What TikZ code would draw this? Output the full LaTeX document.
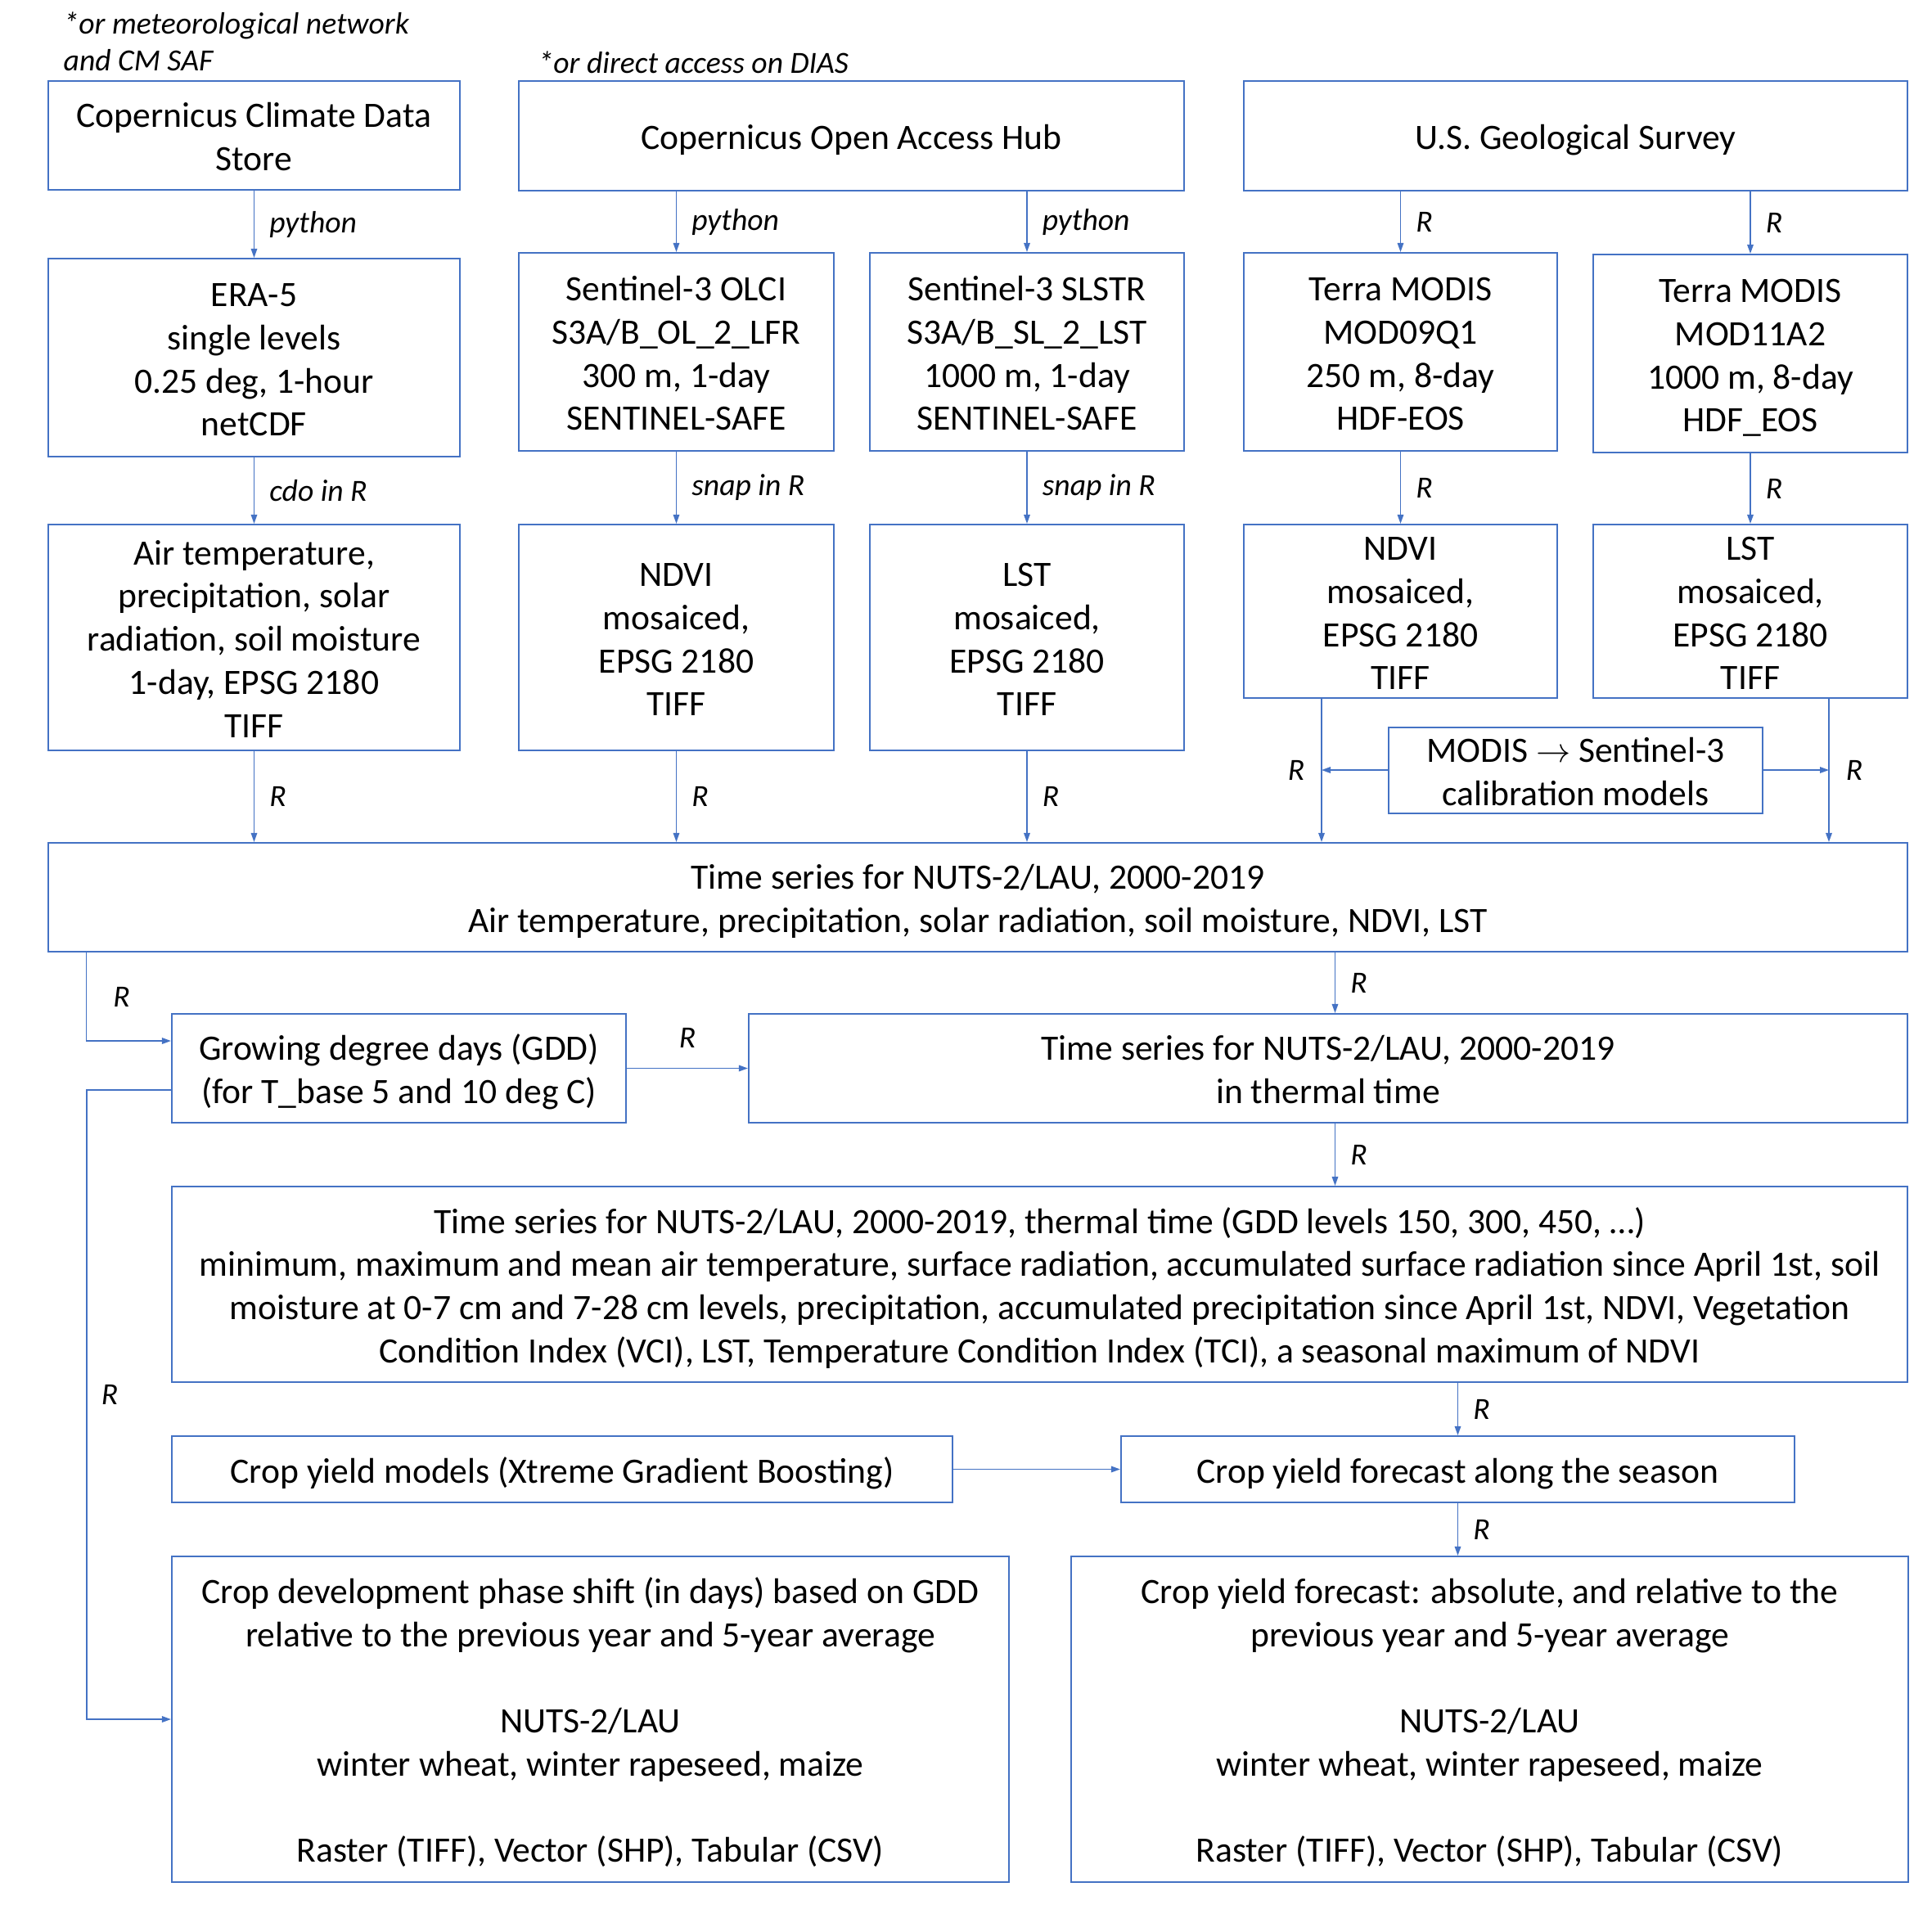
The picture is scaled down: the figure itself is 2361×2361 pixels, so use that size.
\documentclass[tikz,border=0pt]{standalone}
\usepackage{fontspec}
\setmainfont{Carlito}
\usetikzlibrary{arrows.meta,calc}
\definecolor{lineblue}{RGB}{68,114,196}
\newcommand{\bt}[1]{\raisebox{-1.75pt}[\height][\depth]{\begin{tabular}{@{}c@{}}#1\end{tabular}}}
\begin{document}
\begin{tikzpicture}[x=0.1mm,y=-0.1mm,
 box/.style={draw=lineblue,line width=0.6pt,align=center,inner sep=0pt,font=\fontsize{12.4}{15}\selectfont},
 arr/.style={draw=lineblue,line width=0.45pt,-{Triangle[length=1.1mm,width=0.75mm]}},
 lbl/.style={font=\fontsize{10.7}{13}\selectfont\itshape,inner sep=0pt},
]
\useasboundingbox (0,0) rectangle (2361,2361);

% footnotes
\node[lbl,anchor=west,align=left] (fn1) at (77,50.7) {*or meteorological network\\and CM SAF};
\node[lbl,anchor=west] (fn2) at (657,76.5) {*or direct access on DIAS};

% row 1
\node[box,minimum width=50.3mm,minimum height=13.3mm] (cds) at (310.5,165.5) {\bt{Copernicus Climate Data\\Store}};
\node[box,minimum width=81.3mm,minimum height=13.4mm] (coah) at (1040.5,166) {\bt{Copernicus Open Access Hub}};
\node[box,minimum width=81.1mm,minimum height=13.4mm] (usgs) at (1925.5,166) {\bt{U.S. Geological Survey}};

% row 2
\node[box,minimum width=50.3mm,minimum height=24.2mm] (era) at (310.5,437) {\bt{ERA-5\\single levels\\0.25 deg, 1-hour\\netCDF}};
\node[box,minimum width=38.5mm,minimum height=24.2mm] (olci) at (826.5,430) {\bt{Sentinel-3 OLCI\\S3A/B\_OL\_2\_LFR\\300 m, 1-day\\SENTINEL-SAFE}};
\node[box,minimum width=38.4mm,minimum height=24.2mm] (slstr) at (1255,430) {\bt{Sentinel-3 SLSTR\\S3A/B\_SL\_2\_LST\\1000 m, 1-day\\SENTINEL-SAFE}};
\node[box,minimum width=38.3mm,minimum height=24.2mm] (mod09) at (1711.5,430) {\bt{Terra MODIS\\MOD09Q1\\250 m, 8-day\\HDF-EOS}};
\node[box,minimum width=38.4mm,minimum height=24.2mm] (mod11) at (2139,432) {\bt{Terra MODIS\\MOD11A2\\1000 m, 8-day\\HDF\_EOS}};

% row 3
\node[box,minimum width=50.3mm,minimum height=27.6mm] (air) at (310.5,779) {\bt{Air temperature,\\precipitation, solar\\radiation, soil moisture\\1-day, EPSG 2180\\TIFF}};
\node[box,minimum width=38.5mm,minimum height=27.6mm] (ndvis) at (826.5,779) {\bt{NDVI\\mosaiced,\\EPSG 2180\\TIFF}};
\node[box,minimum width=38.4mm,minimum height=27.6mm] (lsts) at (1255,779) {\bt{LST\\mosaiced,\\EPSG 2180\\TIFF}};
\node[box,minimum width=38.3mm,minimum height=21.2mm] (ndvim) at (1711.5,747) {\bt{NDVI\\mosaiced,\\EPSG 2180\\TIFF}};
\node[box,minimum width=38.4mm,minimum height=21.2mm] (lstm) at (2139,747) {\bt{LST\\mosaiced,\\EPSG 2180\\TIFF}};
\node[box,minimum width=45.7mm,minimum height=10.1mm] (calib) at (1925.5,941.5) {\bt{MODIS $\rightarrow$ Sentinel-3\\calibration models}};

% time series
\node[box,minimum width=227.2mm,minimum height=13.3mm] (ts1) at (1195,1096.5) {\bt{Time series for NUTS-2/LAU, 2000-2019\\Air temperature, precipitation, solar radiation, soil moisture, NDVI, LST}};
\node[box,minimum width=55.5mm,minimum height=13.3mm] (gdd) at (487.5,1305.5) {\bt{Growing degree days (GDD)\\(for T\_base 5 and 10 deg C)}};
\node[box,minimum width=141.6mm,minimum height=13.3mm] (ts2) at (1623,1305.5) {\bt{Time series for NUTS-2/LAU, 2000-2019\\in thermal time}};
\node[box,minimum width=212.1mm,minimum height=23.9mm] (ts3) at (1270.5,1569.5) {\bt{Time series for NUTS-2/LAU, 2000-2019, thermal time (GDD levels 150, 300, 450, …)\\minimum, maximum and mean air temperature, surface radiation, accumulated surface radiation since April 1st, soil\\moisture at 0-7 cm and 7-28 cm levels, precipitation, accumulated precipitation since April 1st, NDVI, Vegetation\\Condition Index (VCI), LST, Temperature Condition Index (TCI), a seasonal maximum of NDVI}};

% bottom
\node[box,minimum width=95.4mm,minimum height=8.1mm] (cym) at (687,1795.5) {\bt{Crop yield models (Xtreme Gradient Boosting)}};
\node[box,minimum width=82.3mm,minimum height=8.1mm] (cyf) at (1781.5,1795.5) {\bt{Crop yield forecast along the season}};
\node[box,minimum width=102.3mm,minimum height=39.8mm] (cdp) at (721.5,2101) {\bt{Crop development phase shift (in days) based on GDD\\relative to the previous year and 5-year average\\[15pt]NUTS-2/LAU\\winter wheat, winter rapeseed, maize\\[15pt]Raster (TIFF), Vector (SHP), Tabular (CSV)}};
\node[box,minimum width=102.3mm,minimum height=39.8mm] (cyo) at (1820.5,2101) {\bt{Crop yield forecast: absolute, and relative to the\\previous year and 5-year average\\[15pt]NUTS-2/LAU\\winter wheat, winter rapeseed, maize\\[15pt]Raster (TIFF), Vector (SHP), Tabular (CSV)}};

% connectors rows 1-3
\draw[arr] (cds.south) -- node[lbl,right=1.8mm]{python} (era.north);
\draw[arr] (coah.south -| olci.north) -- node[lbl,right=1.8mm]{python} (olci.north);
\draw[arr] (coah.south -| slstr.north) -- node[lbl,right=1.8mm]{python} (slstr.north);
\draw[arr] (usgs.south -| mod09.north) -- node[lbl,right=1.8mm]{R} (mod09.north);
\draw[arr] (usgs.south -| mod11.north) -- node[lbl,right=1.8mm]{R} (mod11.north);

\draw[arr] (era.south) -- node[lbl,right=1.8mm]{cdo in R} (air.north);
\draw[arr] (olci.south) -- node[lbl,right=1.8mm]{snap in R} (ndvis.north);
\draw[arr] (slstr.south) -- node[lbl,right=1.8mm]{snap in R} (lsts.north);
\draw[arr] (mod09.south) -- node[lbl,right=1.8mm]{R} (ndvim.north);
\draw[arr] (mod11.south) -- node[lbl,right=1.8mm]{R} (lstm.north);

\draw[arr] (air.south) -- node[lbl,right=1.8mm]{R} (air.south |- ts1.north);
\draw[arr] (ndvis.south) -- node[lbl,right=1.8mm]{R} (ndvis.south |- ts1.north);
\draw[arr] (lsts.south) -- node[lbl,right=1.8mm]{R} (lsts.south |- ts1.north);

\coordinate (cl) at (1615,941);
\coordinate (cr) at (2235,941);
\draw[arr] (ndvim.south -| cl) -- (ts1.north -| cl);
\draw[arr] (lstm.south -| cr) -- (ts1.north -| cr);
\draw[arr] (calib.west |- cl) -- (cl) node[lbl,left=2mm]{R};
\draw[arr] (calib.east |- cr) -- (cr) node[lbl,right=2mm]{R};

% lower connectors
\coordinate (g1) at (105.5,1272);
\draw[arr] (ts1.south -| g1) -- node[lbl,right=3.2mm]{R} (g1) -- (gdd.west |- g1);
\draw[arr] (gdd.east) -- node[lbl,above=2.4mm]{R} (ts2.west);
\coordinate (tx) at (1631.5,1200);
\draw[arr] (ts1.south -| tx) -- node[lbl,right=1.8mm]{R} (ts2.north -| tx);
\draw[arr] (ts2.south -| tx) -- node[lbl,right=1.8mm]{R} (ts3.north -| tx);
\draw[arr] (ts3.south -| cyf.north) -- node[lbl,right=1.8mm]{R} (cyf.north);
\draw[arr] (cym.east) -- (cyf.west);
\draw[arr] (cyf.south) -- node[lbl,right=1.8mm]{R} (cyf.south |- cyo.north);
\coordinate (g2) at (106,1332);
\coordinate (g3) at (106,2101);
\draw[arr] (gdd.west |- g2) -- (g2) -- node[lbl,right=1.7mm,pos=0.484]{R} (g3) -- (cdp.west |- g3);
\end{tikzpicture}
\end{document}
